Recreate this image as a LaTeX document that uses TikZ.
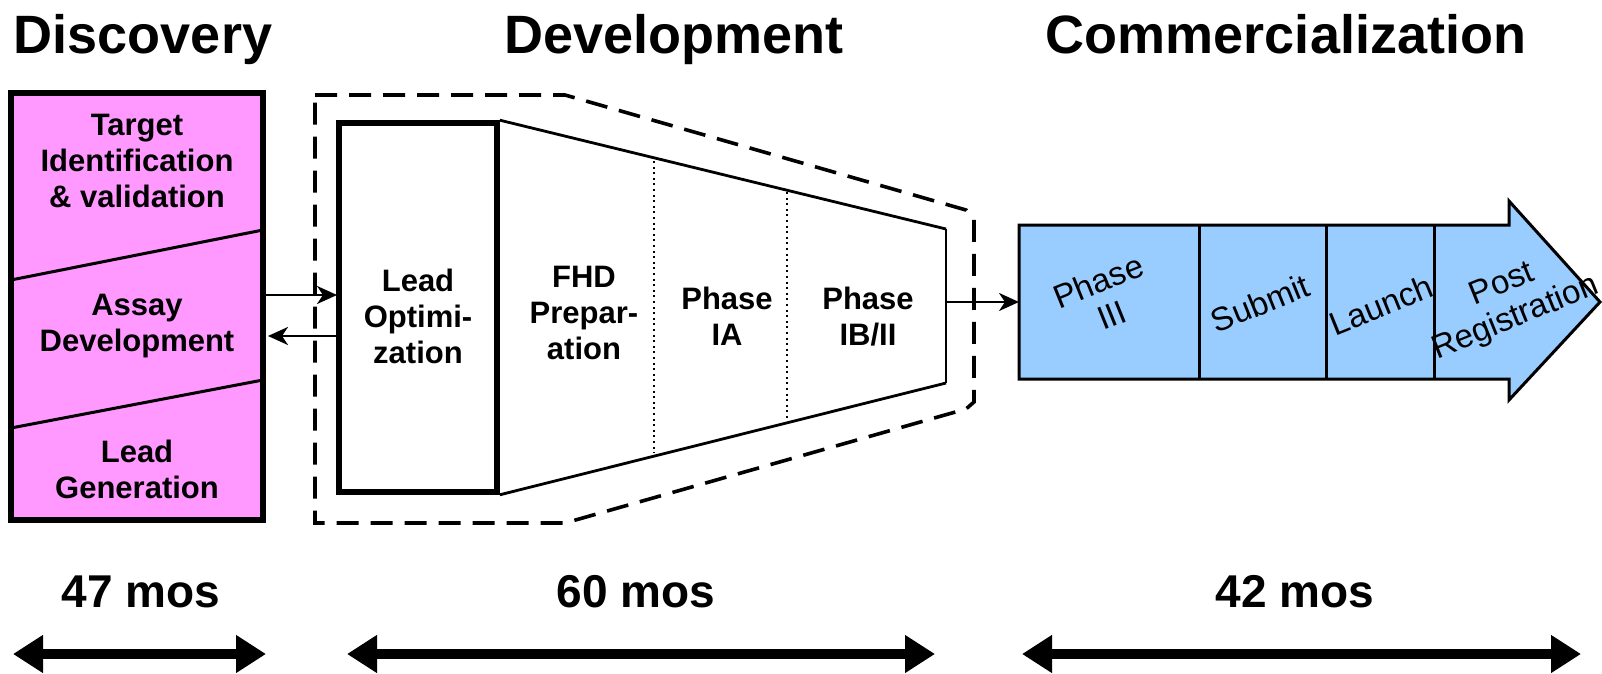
\documentclass[tikz,border=0pt]{standalone}
\usepackage{fontspec}
\setmainfont{Liberation Sans}
\usetikzlibrary{arrows.meta,calc}
\definecolor{pinkfill}{HTML}{FF99FF}
\definecolor{bluefill}{HTML}{99CCFF}
\tikzset{
  title/.style={font=\fontsize{27}{30}\selectfont\bfseries, anchor=base},
  body/.style={font=\fontsize{15.5}{18}\selectfont\bfseries, align=center, inner sep=0pt},
  bluetxt/.style={font=\fontsize{16.5}{18}\selectfont, align=center, inner sep=0pt, rotate=22},
  months/.style={font=\fontsize{23}{26}\selectfont\bfseries, inner sep=0pt},
  thinarrow/.style={line width=1.3pt, -{Stealth[length=10pt,width=9pt,inset=3pt]}},
  span/.style={line width=5pt, {Triangle[width=18pt,length=15pt]}-{Triangle[width=18pt,length=15pt]}},
  dotline/.style={line width=1.3pt, dash pattern=on 1pt off 1.8pt},
}
\begin{document}
\begin{tikzpicture}[x=0.5pt,y=-0.5pt]
\useasboundingbox (0,0) rectangle (1602,674);
% titles
\node[title] (t1) at (143,54) {Discovery};
\node[title] (t2) at (674,54) {Development};
\node[title] (t3) at (1286,54) {Commercialization};
% discovery box
\node[draw, line width=3pt, fill=pinkfill, minimum width=126pt, minimum height=213.5pt, inner sep=0pt] (disc) at (137,306.5) {};
\draw[line width=1.5pt] (11,280) -- (263,230);
\draw[line width=1.5pt] (11,428) -- (263,380);
\node[body] (tid) at (137,161) {Target\\Identification\\\& validation};
\node[body] (ad) at (137,326) {Assay\\Development};
\node[body] (lg) at (137,469) {Lead\\Generation};
% development dashed outline
\draw[line width=1.8pt, dash pattern=on 11pt off 6pt] (315,95) -- (565,95) -- (966,210) -- (974,219) -- (974,402) -- (966,409) -- (565,523) -- (315,523) -- cycle;
% lead optimization box
\node[draw, line width=2.8pt, fill=white, minimum width=79pt, minimum height=184.5pt, inner sep=0pt] (lo) at (418,307.5) {};
\coordinate (tr) at (946,229);
\coordinate (br) at (946,383);
\draw[line width=1.4pt] (lo.north east) -- (tr);
\draw[line width=1.4pt] (lo.south east) -- (br);
\draw[line width=1pt] (tr) -- (br);
\draw[dotline] (654,161) -- (654,453);
\draw[dotline] (787,192) -- (787,421);
\node[body] (lot) at (418,316) {Lead\\Optimi-\\zation};
\node[body] (fhd) at (584,313) {FHD\\Prepar-\\ation};
\node[body] (pia) at (727,316.5) {Phase\\IA};
\node[body] (pib) at (868,316.5) {Phase\\IB/II};
% arrows discovery <-> lead optimization
\coordinate (a1s) at (263,295);
\coordinate (a2s) at (337,336);
\coordinate (a1e) at (337,295);
\coordinate (a2e) at (268,336);
\draw[thinarrow] (a1s) -- (a1e);
\draw[thinarrow] (a2s) -- (a2e);
% commercialization arrow
\coordinate (bl) at (1019,302);
\draw[line width=1.5pt, fill=bluefill, line join=miter] (1019,225) -- (1509,225) -- (1509,201) -- (1600,302) -- (1509,400) -- (1509,379) -- (1019,379) -- cycle;
\draw[line width=1.5pt] (1199,225) -- (1199,379);
\draw[line width=1.5pt] (1326,225) -- (1326,379);
\draw[line width=1.5pt] (1434,225) -- (1434,379);
\node[bluetxt] (p3) at (1105,298) {Phase\\III};
\node[bluetxt] (sub) at (1260,303) {Submit};
\node[bluetxt] (lau) at (1381,305) {Launch};
\node[bluetxt] (post) at (1509,302) {Post\\Registration};
\coordinate (tm) at (946,302);
\draw[thinarrow] (tm) -- (bl);
% durations
\node[months] (m1) at (141,592) {47 mos};
\node[months] (m2) at (636,592) {60 mos};
\node[months] (m3) at (1295,592) {42 mos};
\coordinate (s1a) at (13,654); \coordinate (s1b) at (266,654);
\coordinate (s2a) at (347,654); \coordinate (s2b) at (935,654);
\coordinate (s3a) at (1022,654); \coordinate (s3b) at (1581,654);
\draw[span] (s1a) -- (s1b);
\draw[span] (s2a) -- (s2b);
\draw[span] (s3a) -- (s3b);
\end{tikzpicture}
\end{document}
